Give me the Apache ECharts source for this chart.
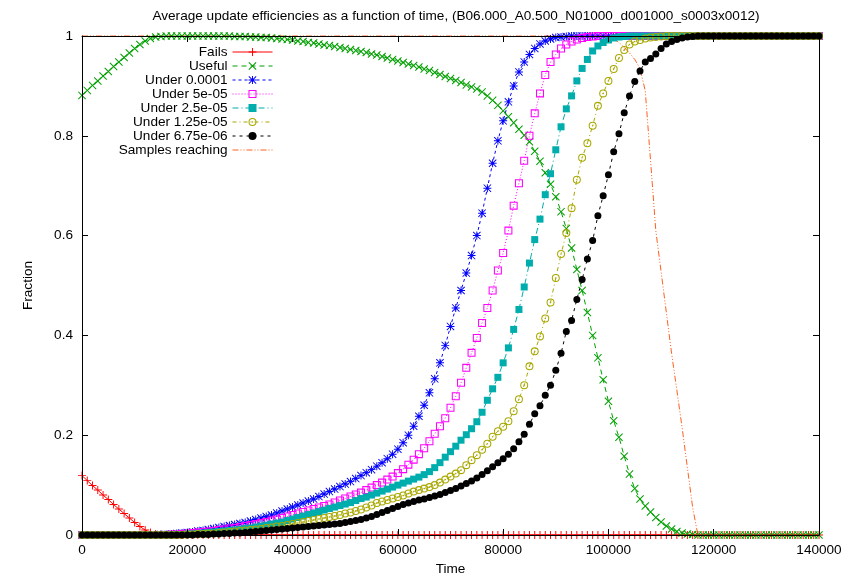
<!DOCTYPE html>
<html>
<head>
<meta charset="utf-8">
<script src="https://cdn.jsdelivr.net/npm/echarts@6/dist/echarts.min.js"></script>
<style>
  html, body { margin: 0; padding: 0; background: #fff; }
  #chart { width: 850px; height: 578px; }
</style>
</head>
<body>
<div id="chart"></div>
<script>
// sample times (one sample every 1000)
const time = [
  0,1000,2000,3000,4000,5000,6000,7000,8000,9000,
  10000,11000,12000,13000,14000,15000,16000,17000,18000,19000,
  20000,21000,22000,23000,24000,25000,26000,27000,28000,29000,
  30000,31000,32000,33000,34000,35000,36000,37000,38000,39000,
  40000,41000,42000,43000,44000,45000,46000,47000,48000,49000,
  50000,51000,52000,53000,54000,55000,56000,57000,58000,59000,
  60000,61000,62000,63000,64000,65000,66000,67000,68000,69000,
  70000,71000,72000,73000,74000,75000,76000,77000,78000,79000,
  80000,81000,82000,83000,84000,85000,86000,87000,88000,89000,
  90000,91000,92000,93000,94000,95000,96000,97000,98000,99000,
  100000,101000,102000,103000,104000,105000,106000,107000,108000,109000,
  110000,111000,112000,113000,114000,115000,116000,117000,118000,119000,
  120000,121000,122000,123000,124000,125000,126000,127000,128000,129000,
  130000,131000,132000,133000,134000,135000,136000,137000,138000,139000,
  140000
];

const fails = [
  0.119,0.109,0.099,0.090,0.080,0.071,0.061,0.052,0.043,0.034,
  0.025,0.017,0.010,0.005,0.002,0.001,0,0,0,0,
  0,0,0,0,0,0,0,0,0,0,
  0,0,0,0,0,0,0,0,0,0,
  0,0,0,0,0,0,0,0,0,0,
  0,0,0,0,0,0,0,0,0,0,
  0,0,0,0,0,0,0,0,0,0,
  0,0,0,0,0,0,0,0,0,0,
  0,0,0,0,0,0,0,0,0,0,
  0,0,0,0,0,0,0,0,0,0,
  0,0,0,0,0,0,0,0,0,0,
  0,0,0,0,0,0,0,0,0,0,
  0,0,0,0,0,0,0,0,0,0,
  0,0,0,0,0,0,0,0,0,0,
  0
];

const useful = [
  0.881,0.891,0.901,0.910,0.920,0.929,0.939,0.948,0.957,0.966,
  0.975,0.983,0.990,0.995,0.998,0.999,1,1,1,1,
  1,1,1,1,1,1,1,1,1,0.999,
  0.999,0.999,0.998,0.998,0.997,0.997,0.996,0.995,0.994,0.993,
  0.992,0.990,0.989,0.987,0.986,0.984,0.982,0.981,0.979,0.977,
  0.975,0.973,0.971,0.969,0.967,0.964,0.962,0.959,0.956,0.953,
  0.950,0.947,0.944,0.941,0.938,0.934,0.931,0.927,0.923,0.919,
  0.915,0.911,0.907,0.902,0.898,0.894,0.888,0.880,0.871,0.861,
  0.850,0.838,0.826,0.813,0.801,0.788,0.769,0.749,0.726,0.703,
  0.678,0.648,0.614,0.575,0.532,0.490,0.446,0.400,0.355,0.311,
  0.268,0.229,0.196,0.158,0.122,0.093,0.072,0.058,0.046,0.035,
  0.026,0.018,0.012,0.007,0.004,0.002,0.001,0,0,0,
  0,0,0,0,0,0,0,0,0,0,
  0,0,0,0,0,0,0,0,0,0,
  0
];

const under1 = [
  0,0,0,0,0,0,0,0,0,0,
  0,0,0,0,0,0.001,0.001,0.002,0.003,0.004,
  0.005,0.006,0.008,0.009,0.011,0.013,0.015,0.017,0.019,0.021,
  0.023,0.025,0.028,0.031,0.034,0.037,0.040,0.044,0.048,0.052,
  0.056,0.060,0.064,0.068,0.072,0.077,0.082,0.087,0.092,0.097,
  0.102,0.107,0.113,0.119,0.125,0.131,0.138,0.145,0.153,0.162,
  0.172,0.185,0.200,0.218,0.238,0.260,0.285,0.313,0.345,0.380,
  0.418,0.455,0.490,0.525,0.560,0.600,0.645,0.695,0.745,0.790,
  0.830,0.868,0.900,0.928,0.948,0.963,0.975,0.984,0.990,0.994,
  0.997,0.998,0.999,1,1,1,1,1,1,1,
  1,1,1,1,1,1,1,1,1,1,
  1,1,1,1,1,1,1,1,1,1,
  1,1,1,1,1,1,1,1,1,1,
  1,1,1,1,1,1,1,1,1,1,
  1
];

const under2 = [
  0,0,0,0,0,0,0,0,0,0,
  0,0,0,0,0,0,0,0.001,0.001,0.002,
  0.003,0.004,0.005,0.006,0.007,0.008,0.010,0.011,0.013,0.014,
  0.016,0.018,0.020,0.022,0.024,0.026,0.029,0.031,0.034,0.037,
  0.040,0.043,0.046,0.049,0.052,0.055,0.058,0.061,0.065,0.069,
  0.073,0.077,0.081,0.085,0.090,0.095,0.100,0.105,0.111,0.117,
  0.124,0.132,0.141,0.151,0.162,0.174,0.188,0.203,0.218,0.234,
  0.255,0.278,0.305,0.335,0.365,0.395,0.425,0.455,0.490,0.530,
  0.565,0.610,0.660,0.705,0.750,0.800,0.845,0.885,0.922,0.948,
  0.963,0.975,0.983,0.989,0.993,0.996,0.998,0.999,1,1,
  1,1,1,1,1,1,1,1,1,1,
  1,1,1,1,1,1,1,1,1,1,
  1,1,1,1,1,1,1,1,1,1,
  1,1,1,1,1,1,1,1,1,1,
  1
];

const under3 = [
  0,0,0,0,0,0,0,0,0,0,
  0,0,0,0,0,0,0,0,0.001,0.001,
  0.002,0.002,0.003,0.004,0.005,0.006,0.007,0.008,0.009,0.010,
  0.011,0.013,0.014,0.016,0.018,0.020,0.022,0.024,0.026,0.029,
  0.032,0.035,0.038,0.041,0.044,0.047,0.050,0.053,0.056,0.059,
  0.062,0.065,0.069,0.073,0.076,0.080,0.084,0.088,0.092,0.096,
  0.100,0.104,0.108,0.112,0.116,0.121,0.127,0.135,0.145,0.156,
  0.167,0.178,0.190,0.201,0.213,0.227,0.246,0.270,0.293,0.316,
  0.345,0.375,0.412,0.452,0.497,0.545,0.592,0.633,0.682,0.724,
  0.772,0.818,0.854,0.880,0.910,0.935,0.953,0.970,0.980,0.987,
  0.992,0.996,0.998,0.999,1,1,1,1,1,1,
  1,1,1,1,1,1,1,1,1,1,
  1,1,1,1,1,1,1,1,1,1,
  1,1,1,1,1,1,1,1,1,1,
  1
];

const under4 = [
  0,0,0,0,0,0,0,0,0,0,
  0,0,0,0,0,0,0,0,0,0,
  0.001,0.001,0.002,0.002,0.003,0.003,0.004,0.005,0.006,0.007,
  0.008,0.009,0.010,0.011,0.012,0.014,0.015,0.017,0.018,0.020,
  0.022,0.024,0.026,0.028,0.030,0.032,0.034,0.036,0.038,0.040,
  0.043,0.045,0.048,0.051,0.055,0.059,0.064,0.067,0.070,0.073,
  0.076,0.079,0.083,0.087,0.090,0.093,0.096,0.100,0.105,0.111,
  0.117,0.123,0.130,0.140,0.150,0.160,0.171,0.183,0.197,0.208,
  0.217,0.228,0.248,0.272,0.300,0.338,0.368,0.398,0.434,0.466,
  0.515,0.563,0.605,0.655,0.712,0.756,0.785,0.820,0.860,0.885,
  0.910,0.934,0.956,0.972,0.983,0.989,0.992,0.995,0.997,0.998,
  0.999,1,1,1,1,1,1,1,1,1,
  1,1,1,1,1,1,1,1,1,1,
  1,1,1,1,1,1,1,1,1,1,
  1
];

const under5 = [
  0,0,0,0,0,0,0,0,0,0,
  0,0,0,0,0,0,0,0,0,0,
  0,0,0.001,0.001,0.001,0.002,0.002,0.003,0.003,0.004,
  0.004,0.005,0.006,0.007,0.008,0.009,0.010,0.011,0.012,0.013,
  0.014,0.015,0.016,0.017,0.018,0.019,0.020,0.021,0.022,0.023,
  0.025,0.027,0.029,0.031,0.034,0.037,0.041,0.045,0.049,0.053,
  0.057,0.061,0.064,0.067,0.070,0.072,0.075,0.078,0.081,0.085,
  0.089,0.093,0.098,0.103,0.108,0.114,0.121,0.129,0.137,0.145,
  0.153,0.162,0.173,0.187,0.202,0.222,0.243,0.259,0.280,0.300,
  0.330,0.364,0.408,0.430,0.472,0.512,0.553,0.590,0.640,0.680,
  0.722,0.768,0.804,0.846,0.880,0.909,0.930,0.948,0.955,0.964,
  0.975,0.984,0.989,0.993,0.996,0.998,0.999,1,1,1,
  1,1,1,1,1,1,1,1,1,1,
  1,1,1,1,1,1,1,1,1,1,
  1
];

const samples = [
  1,1,1,1,1,1,1,1,1,1,
  1,1,1,1,1,1,1,1,1,1,
  1,1,1,1,1,1,1,1,1,1,
  1,1,1,1,1,1,1,1,1,1,
  1,1,1,1,1,1,1,1,1,1,
  1,1,1,1,1,1,1,1,1,1,
  1,1,1,1,1,1,1,1,1,1,
  1,1,1,1,1,1,1,1,1,1,
  1,1,1,1,1,1,1,1,1,1,
  1,1,1,1,1,1,1,1,1,1,
  1,0.995,0.987,0.977,0.966,0.953,0.935,0.890,0.750,0.610,
  0.528,0.446,0.364,0.290,0.215,0.135,0.055,0,0,0,
  0,0,0,0,0,0,0,0,0,0,
  0,0,0,0,0,0,0,0,0,0,
  0
];

const names = ["Fails", "Useful", "Under 0.0001", "Under 5e-05", "Under 2.5e-05",
  "Under 1.25e-05", "Under 6.75e-06", "Samples reaching"];
const xTicks = [0, 20000, 40000, 60000, 80000, 100000, 120000, 140000];

const FONT = "'Liberation Sans', Arial, Helvetica, sans-serif";
const FS = 13.6;

// marker shapes (gnuplot style)
const PLUS = "path://M4.4,0 L5.6,0 L5.6,4.4 L10,4.4 L10,5.6 L5.6,5.6 L5.6,10 L4.4,10 L4.4,5.6 L0,5.6 L0,4.4 L4.4,4.4 Z";
const CROSS = "path://M0,0.9 L0.9,0 L5,4.1 L9.1,0 L10,0.9 L5.9,5 L10,9.1 L9.1,10 L5,5.9 L0.9,10 L0,9.1 L4.1,5 Z";
const STAR = "path://M4.4,0 L5.6,0 L5.6,10 L4.4,10 Z M0,4.4 L10,4.4 L10,5.6 L0,5.6 Z M0.8,0 L10,9.2 L9.2,10 L0,0.8 Z M9.2,0 L10,0.8 L0.8,10 L0,9.2 Z";
const BOX = "path://M0,0 L10,0 L10,10 L0,10 Z M1.3,1.3 L1.3,8.7 L8.7,8.7 L8.7,1.3 Z";
const DOTRING = "path://M5,0 A5,5 0 1 1 5,10 A5,5 0 1 1 5,0 Z M5,1.3 A3.7,3.7 0 1 0 5,8.7 A3.7,3.7 0 1 0 5,1.3 Z M5,4 A1,1 0 1 1 5,6 A1,1 0 1 1 5,4 Z";

const colors = ["#ff0000", "#00a000", "#0000ff", "#ff00ff", "#00adad", "#a8a800", "#000000", "#ff6020"];

function makeSeries(name, values, color, dash, symbol, size) {
  return {
    name: name,
    type: "line",
    data: time.map((t, i) => [t, values[i]]),
    symbol: symbol,
    symbolSize: size,
    showSymbol: symbol !== "none",
    showAllSymbol: true,
    clip: false,
    lineStyle: { color: color, width: 1, type: dash },
    itemStyle: { color: color, borderWidth: 0 },
    emphasis: { disabled: true },
  };
}

let chart = echarts.init(document.getElementById("chart"), null, { renderer: "canvas" });

// one legend per entry so that the texts line up on the right like gnuplot's key
let legends = names.map((n, i) => ({
  data: [n],
  orient: "horizontal",
  align: "right",
  right: 577,
  top: 45 + i * 14,
  padding: 0,
  itemWidth: 40,
  itemHeight: 10,
  selectedMode: false,
  lineStyle: { width: 1 },
  itemStyle: i === 7 ? { color: "transparent", borderWidth: 0 } : { borderWidth: 0 },
  textStyle: { fontSize: FS, fontFamily: FONT, color: "#000" },
}));

function frameAxis(extra) {
  return Object.assign({
    z: 5,
    axisLine: { show: true, onZero: false, lineStyle: { color: "#000", width: 1 } },
    axisTick: { show: true, inside: true, length: 6, lineStyle: { color: "#000" } },
    splitLine: { show: false },
  }, extra);
}

let option = {
  animation: false,
  backgroundColor: "#fff",
  title: {
    text: "Average update efficiencies as a function of time, (B06.000_A0.500_N01000_d001000_s0003x0012)",
    left: 451,
    textAlign: "center",
    top: 4,
    textStyle: { fontSize: FS, fontWeight: "normal", fontFamily: FONT, color: "#000" },
  },
  legend: legends,
  grid: { left: 82, right: 31, top: 36, bottom: 43, outerBoundsMode: "none", containLabel: false },
  xAxis: [
    frameAxis({
      type: "value", min: 0, max: 140000, interval: 20000, position: "bottom",
      name: "Time", nameLocation: "middle", nameGap: 27,
      nameTextStyle: { fontSize: FS, fontFamily: FONT, color: "#000" },
      axisLabel: {
        fontSize: FS, fontFamily: FONT, color: "#000", margin: 8,
        formatter: (v) => (xTicks.indexOf(v) >= 0 ? String(v) : ""),
      },
    }),
    frameAxis({
      type: "value", min: 0, max: 140000, interval: 20000, position: "top",
      axisLabel: { show: false },
    }),
  ],
  yAxis: [
    frameAxis({
      type: "value", min: 0, max: 1, interval: 0.2, position: "left",
      name: "Fraction", nameLocation: "middle", nameGap: 47, nameRotate: 90,
      nameTextStyle: { fontSize: FS, fontFamily: FONT, color: "#000" },
      axisLabel: { fontSize: FS, fontFamily: FONT, color: "#000", margin: 9 },
    }),
    frameAxis({
      type: "value", min: 0, max: 1, interval: 0.2, position: "right",
      axisLabel: { show: false },
    }),
  ],
  series: [
    makeSeries(names[0], fails, colors[0], "solid", PLUS, 8),
    makeSeries(names[1], useful, colors[1], [5, 4], CROSS, 8),
    makeSeries(names[2], under1, colors[2], [3, 3], STAR, 8),
    makeSeries(names[3], under2, colors[3], [1, 2], BOX, 8),
    makeSeries(names[4], under3, colors[4], [6, 3, 1, 3], "rect", 7),
    makeSeries(names[5], under4, colors[5], [4, 3, 1, 3], DOTRING, 8),
    makeSeries(names[6], under5, colors[6], [3, 4], "circle", 7),
    makeSeries(names[7], samples, colors[7], [6, 2, 1, 2, 1, 2], "none", 0),
  ],
};
chart.setOption(option);
</script>
</body>
</html>
